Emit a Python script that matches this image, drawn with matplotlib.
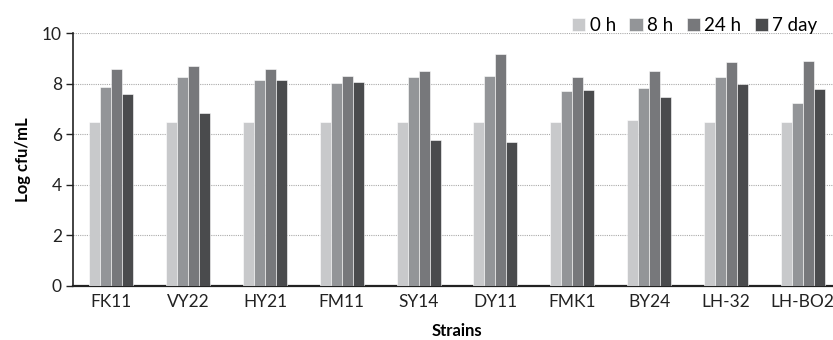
import numpy as np
import matplotlib.pyplot as plt

plt.rcParams['font.family'] = ['Lato', 'DejaVu Sans']

strains = ['FK11', 'VY22', 'HY21', 'FM11', 'SY14', 'DY11', 'FMK1', 'BY24', 'LH-32', 'LH-BO2']
series = ['0 h', '8 h', '24 h', '7 day']
h0 = [6.5, 6.5, 6.5, 6.5, 6.5, 6.5, 6.5, 6.57, 6.5, 6.5]
h8 = [7.85, 8.27, 8.15, 8.01, 8.25, 8.30, 7.69, 7.83, 8.25, 7.22]
h24 = [8.56, 8.70, 8.56, 8.32, 8.51, 9.17, 8.28, 8.50, 8.85, 8.89]
d7 = [7.59, 6.84, 8.15, 8.06, 5.77, 5.69, 7.75, 7.49, 8.00, 7.77]
colors = ['#c8c9cb', '#939598', '#77787b', '#4a4b4d']

fig = plt.figure(figsize=(8.33, 3.4), dpi=100)
ax = fig.add_axes([73/833, 54/340, 768/833, 253/340])

x = np.arange(len(strains))
w = 0.143
for i, (vals, lab) in enumerate(zip([h0, h8, h24, d7], series)):
    ax.bar(x + (i - 1.5) * w, vals, w, color=colors[i], label=lab,
           edgecolor='white', linewidth=0.4, zorder=3)

ax.set_xlim(-0.5, len(strains) - 0.5)
ax.set_ylim(0, 10)
ax.set_yticks(range(0, 11, 2))
ax.set_xticks(x)
ax.set_xticklabels(strains, fontsize=12.5, color='#222222')
ax.tick_params(axis='x', length=0, pad=6)
ax.tick_params(axis='y', labelsize=12.5, length=5, width=1, colors='#222222', pad=3)
ax.yaxis.grid(True, linestyle=(0, (1, 1)), color='#aaaaaa', linewidth=0.8, zorder=0)
for s in ['top', 'right']:
    ax.spines[s].set_visible(False)
ax.spines['left'].set_linewidth(1.2)
ax.spines['bottom'].set_linewidth(1.6)
ax.spines['left'].set_color('#222222')
ax.spines['bottom'].set_color('#222222')

ax.set_ylabel('Log cfu/mL', fontsize=12, fontweight='bold', labelpad=8)
ax.set_xlabel('Strains', fontsize=12, fontweight='bold', labelpad=9)

ax.legend(loc='lower right', bbox_to_anchor=(0.972, 0.99), ncol=4, frameon=False,
          fontsize=13.5, handlelength=0.7, handleheight=0.7, handletextpad=0.25,
          columnspacing=0.7, borderaxespad=0, borderpad=0.1)

fig.savefig('out.png', dpi=100)
